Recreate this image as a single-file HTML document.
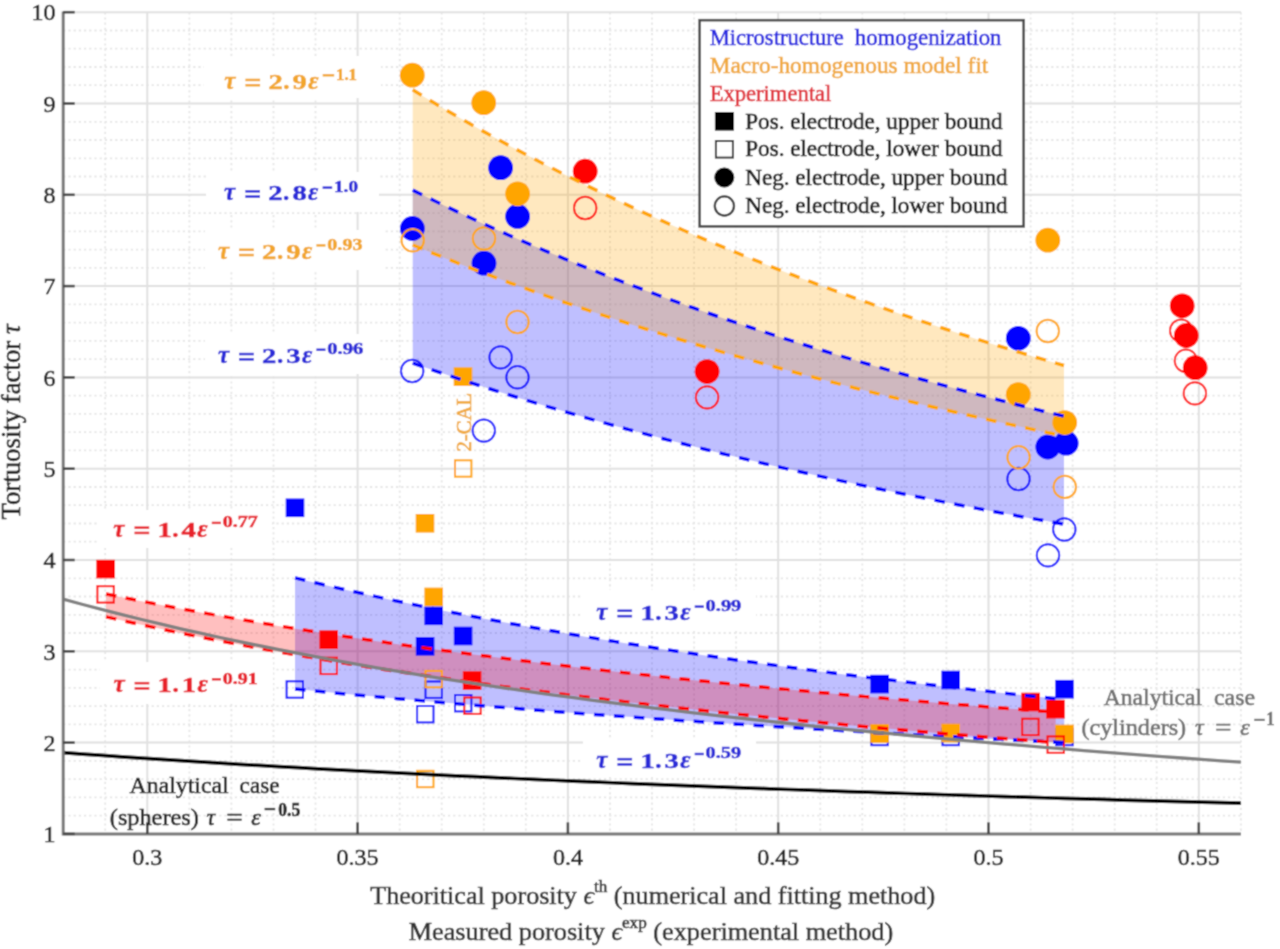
<!DOCTYPE html><html><head><meta charset="utf-8"><title>Tortuosity chart</title><style>
svg{will-change:transform}
html,body{margin:0;padding:0;background:#fff;width:1280px;height:949px;overflow:hidden;position:relative}
svg text{font-family:"Liberation Serif",serif}
.mn{stroke:#e6e6e6;stroke-width:1.8;stroke-dasharray:2.2 3}
.mj{stroke:#e0e0e0;stroke-width:2}
.tk{font-size:24px;fill:#222;stroke:#222}
text{stroke-width:0.6px}
.fm,.fd,.fs{stroke-width:0.5px}
.lg{font-size:24px}
.fm{font-size:25px;font-weight:bold}
.fs{font-size:16px;font-weight:bold}
.fd{font-size:22px;font-weight:bold}
.an{font-size:24px}
.cal{font-size:20.5px}
.ax{font-size:26px}
.yt{font-size:26.5px}
</style></head><body><svg width="1280" height="949" viewBox="0 0 1280 949" style="position:absolute;left:0;top:0">
<defs><filter id="bl" x="0" y="0" width="1280" height="949" filterUnits="userSpaceOnUse"><feConvolveMatrix order="3" kernelMatrix="1 2 1 2 8 2 1 2 1" divisor="20" edgeMode="duplicate"/></filter></defs><g filter="url(#bl)">
<rect width="1280" height="949" fill="#fff"/>
<g><line x1="63.2" y1="12.2" x2="63.2" y2="833.9" class="mn"/><line x1="105.2" y1="12.2" x2="105.2" y2="833.9" class="mn"/><line x1="189.4" y1="12.2" x2="189.4" y2="833.9" class="mn"/><line x1="231.4" y1="12.2" x2="231.4" y2="833.9" class="mn"/><line x1="273.5" y1="12.2" x2="273.5" y2="833.9" class="mn"/><line x1="315.5" y1="12.2" x2="315.5" y2="833.9" class="mn"/><line x1="399.7" y1="12.2" x2="399.7" y2="833.9" class="mn"/><line x1="441.7" y1="12.2" x2="441.7" y2="833.9" class="mn"/><line x1="483.8" y1="12.2" x2="483.8" y2="833.9" class="mn"/><line x1="525.8" y1="12.2" x2="525.8" y2="833.9" class="mn"/><line x1="610.0" y1="12.2" x2="610.0" y2="833.9" class="mn"/><line x1="652.0" y1="12.2" x2="652.0" y2="833.9" class="mn"/><line x1="694.1" y1="12.2" x2="694.1" y2="833.9" class="mn"/><line x1="736.1" y1="12.2" x2="736.1" y2="833.9" class="mn"/><line x1="820.3" y1="12.2" x2="820.3" y2="833.9" class="mn"/><line x1="862.3" y1="12.2" x2="862.3" y2="833.9" class="mn"/><line x1="904.4" y1="12.2" x2="904.4" y2="833.9" class="mn"/><line x1="946.4" y1="12.2" x2="946.4" y2="833.9" class="mn"/><line x1="1030.6" y1="12.2" x2="1030.6" y2="833.9" class="mn"/><line x1="1072.6" y1="12.2" x2="1072.6" y2="833.9" class="mn"/><line x1="1114.7" y1="12.2" x2="1114.7" y2="833.9" class="mn"/><line x1="1156.7" y1="12.2" x2="1156.7" y2="833.9" class="mn"/><line x1="1240.9" y1="12.2" x2="1240.9" y2="833.9" class="mn"/><line x1="63.2" y1="815.6" x2="1240.9" y2="815.6" class="mn"/><line x1="63.2" y1="797.4" x2="1240.9" y2="797.4" class="mn"/><line x1="63.2" y1="779.1" x2="1240.9" y2="779.1" class="mn"/><line x1="63.2" y1="760.9" x2="1240.9" y2="760.9" class="mn"/><line x1="63.2" y1="724.3" x2="1240.9" y2="724.3" class="mn"/><line x1="63.2" y1="706.1" x2="1240.9" y2="706.1" class="mn"/><line x1="63.2" y1="687.8" x2="1240.9" y2="687.8" class="mn"/><line x1="63.2" y1="669.6" x2="1240.9" y2="669.6" class="mn"/><line x1="63.2" y1="633.0" x2="1240.9" y2="633.0" class="mn"/><line x1="63.2" y1="614.8" x2="1240.9" y2="614.8" class="mn"/><line x1="63.2" y1="596.5" x2="1240.9" y2="596.5" class="mn"/><line x1="63.2" y1="578.3" x2="1240.9" y2="578.3" class="mn"/><line x1="63.2" y1="541.7" x2="1240.9" y2="541.7" class="mn"/><line x1="63.2" y1="523.5" x2="1240.9" y2="523.5" class="mn"/><line x1="63.2" y1="505.2" x2="1240.9" y2="505.2" class="mn"/><line x1="63.2" y1="487.0" x2="1240.9" y2="487.0" class="mn"/><line x1="63.2" y1="450.4" x2="1240.9" y2="450.4" class="mn"/><line x1="63.2" y1="432.2" x2="1240.9" y2="432.2" class="mn"/><line x1="63.2" y1="413.9" x2="1240.9" y2="413.9" class="mn"/><line x1="63.2" y1="395.7" x2="1240.9" y2="395.7" class="mn"/><line x1="63.2" y1="359.1" x2="1240.9" y2="359.1" class="mn"/><line x1="63.2" y1="340.9" x2="1240.9" y2="340.9" class="mn"/><line x1="63.2" y1="322.6" x2="1240.9" y2="322.6" class="mn"/><line x1="63.2" y1="304.4" x2="1240.9" y2="304.4" class="mn"/><line x1="63.2" y1="267.8" x2="1240.9" y2="267.8" class="mn"/><line x1="63.2" y1="249.6" x2="1240.9" y2="249.6" class="mn"/><line x1="63.2" y1="231.3" x2="1240.9" y2="231.3" class="mn"/><line x1="63.2" y1="213.1" x2="1240.9" y2="213.1" class="mn"/><line x1="63.2" y1="176.5" x2="1240.9" y2="176.5" class="mn"/><line x1="63.2" y1="158.3" x2="1240.9" y2="158.3" class="mn"/><line x1="63.2" y1="140.0" x2="1240.9" y2="140.0" class="mn"/><line x1="63.2" y1="121.8" x2="1240.9" y2="121.8" class="mn"/><line x1="63.2" y1="85.2" x2="1240.9" y2="85.2" class="mn"/><line x1="63.2" y1="67.0" x2="1240.9" y2="67.0" class="mn"/><line x1="63.2" y1="48.7" x2="1240.9" y2="48.7" class="mn"/><line x1="63.2" y1="30.5" x2="1240.9" y2="30.5" class="mn"/><line x1="147.3" y1="12.2" x2="147.3" y2="833.9" class="mj"/><line x1="357.6" y1="12.2" x2="357.6" y2="833.9" class="mj"/><line x1="567.9" y1="12.2" x2="567.9" y2="833.9" class="mj"/><line x1="778.2" y1="12.2" x2="778.2" y2="833.9" class="mj"/><line x1="988.5" y1="12.2" x2="988.5" y2="833.9" class="mj"/><line x1="1198.8" y1="12.2" x2="1198.8" y2="833.9" class="mj"/><line x1="63.2" y1="833.9" x2="1240.9" y2="833.9" class="mj"/><line x1="63.2" y1="742.6" x2="1240.9" y2="742.6" class="mj"/><line x1="63.2" y1="651.3" x2="1240.9" y2="651.3" class="mj"/><line x1="63.2" y1="560.0" x2="1240.9" y2="560.0" class="mj"/><line x1="63.2" y1="468.7" x2="1240.9" y2="468.7" class="mj"/><line x1="63.2" y1="377.4" x2="1240.9" y2="377.4" class="mj"/><line x1="63.2" y1="286.1" x2="1240.9" y2="286.1" class="mj"/><line x1="63.2" y1="194.8" x2="1240.9" y2="194.8" class="mj"/><line x1="63.2" y1="103.5" x2="1240.9" y2="103.5" class="mj"/><line x1="63.2" y1="12.2" x2="1240.9" y2="12.2" class="mj"/></g>
<rect x="204" y="56" width="177" height="42" fill="#fff"/>
<rect x="206" y="172" width="173" height="40" fill="#fff"/>
<rect x="205" y="230" width="178" height="40" fill="#fff"/>
<rect x="205" y="334" width="175" height="40" fill="#fff"/>
<rect x="583" y="590" width="173" height="40" fill="#fff"/>
<rect x="583" y="738" width="173" height="39" fill="#fff"/>
<rect x="98" y="510" width="174" height="38" fill="#fff"/>
<rect x="100" y="662" width="173" height="42" fill="#fff"/>
<polygon points="412.70,190.10 423.56,195.47 434.41,200.76 445.27,205.98 456.12,211.12 466.98,216.20 477.83,221.20 488.69,226.13 499.54,231.00 510.40,235.80 521.25,240.53 532.11,245.20 542.96,249.81 553.82,254.36 564.67,258.85 575.53,263.28 586.38,267.65 597.24,271.96 608.09,276.22 618.95,280.43 629.80,284.58 640.65,288.68 651.51,292.73 662.37,296.73 673.22,300.68 684.08,304.58 694.93,308.43 705.79,312.24 716.64,316.00 727.50,319.72 738.35,323.39 749.21,327.01 760.06,330.60 770.92,334.14 781.77,337.64 792.63,341.10 803.48,344.53 814.34,347.91 825.19,351.25 836.05,354.56 846.90,357.83 857.75,361.06 868.61,364.25 879.46,367.41 890.32,370.54 901.18,373.63 912.03,376.69 922.89,379.71 933.74,382.70 944.60,385.66 955.45,388.59 966.31,391.49 977.16,394.36 988.02,397.19 998.87,400.00 1009.72,402.78 1020.58,405.53 1031.43,408.25 1042.29,410.94 1053.14,413.60 1064.00,416.24 1064.00,524.18 1053.14,522.27 1042.29,520.34 1031.43,518.39 1020.58,516.43 1009.72,514.44 998.87,512.44 988.02,510.41 977.16,508.37 966.31,506.30 955.45,504.21 944.60,502.10 933.74,499.97 922.89,497.82 912.03,495.64 901.18,493.44 890.32,491.22 879.46,488.98 868.61,486.71 857.75,484.41 846.90,482.10 836.05,479.75 825.19,477.38 814.34,474.99 803.48,472.57 792.63,470.12 781.77,467.64 770.92,465.14 760.06,462.61 749.21,460.05 738.35,457.46 727.50,454.84 716.64,452.19 705.79,449.51 694.93,446.80 684.08,444.05 673.22,441.28 662.37,438.47 651.51,435.62 640.65,432.75 629.80,429.83 618.95,426.88 608.09,423.90 597.24,420.88 586.38,417.82 575.53,414.72 564.67,411.59 553.82,408.41 542.96,405.20 532.11,401.94 521.25,398.64 510.40,395.29 499.54,391.91 488.69,388.48 477.83,385.00 466.98,381.48 456.12,377.90 445.27,374.28 434.41,370.62 423.56,366.90 412.70,363.13" fill="#0000FF" fill-opacity="0.25"/>
<polygon points="412.70,89.84 423.56,96.48 434.41,103.03 445.27,109.48 456.12,115.83 466.98,122.09 477.83,128.26 488.69,134.34 499.54,140.33 510.40,146.24 521.25,152.07 532.11,157.81 542.96,163.48 553.82,169.06 564.67,174.57 575.53,180.00 586.38,185.36 597.24,190.65 608.09,195.87 618.95,201.01 629.80,206.09 640.65,211.11 651.51,216.05 662.37,220.93 673.22,225.75 684.08,230.51 694.93,235.21 705.79,239.85 716.64,244.42 727.50,248.95 738.35,253.41 749.21,257.82 760.06,262.18 770.92,266.48 781.77,270.73 792.63,274.93 803.48,279.07 814.34,283.17 825.19,287.22 836.05,291.22 846.90,295.18 857.75,299.09 868.61,302.95 879.46,306.77 890.32,310.54 901.18,314.27 912.03,317.96 922.89,321.60 933.74,325.21 944.60,328.77 955.45,332.30 966.31,335.79 977.16,339.23 988.02,342.64 998.87,346.02 1009.72,349.35 1020.58,352.65 1031.43,355.91 1042.29,359.14 1053.14,362.34 1064.00,365.50 1064.00,436.00 1053.14,433.73 1042.29,431.43 1031.43,429.11 1020.58,426.77 1009.72,424.41 998.87,422.03 988.02,419.61 977.16,417.18 966.31,414.72 955.45,412.24 944.60,409.73 933.74,407.19 922.89,404.63 912.03,402.05 901.18,399.43 890.32,396.79 879.46,394.12 868.61,391.43 857.75,388.70 846.90,385.95 836.05,383.16 825.19,380.35 814.34,377.50 803.48,374.63 792.63,371.72 781.77,368.78 770.92,365.81 760.06,362.80 749.21,359.76 738.35,356.69 727.50,353.58 716.64,350.44 705.79,347.26 694.93,344.04 684.08,340.79 673.22,337.49 662.37,334.16 651.51,330.79 640.65,327.38 629.80,323.93 618.95,320.44 608.09,316.90 597.24,313.32 586.38,309.70 575.53,306.03 564.67,302.32 553.82,298.56 542.96,294.75 532.11,290.90 521.25,286.99 510.40,283.03 499.54,279.03 488.69,274.97 477.83,270.86 466.98,266.69 456.12,262.47 445.27,258.19 434.41,253.85 423.56,249.46 412.70,245.00" fill="#FFA500" fill-opacity="0.25"/>
<polygon points="295.00,577.84 307.82,580.94 320.64,583.99 333.47,586.98 346.29,589.92 359.11,592.80 371.93,595.64 384.75,598.43 397.57,601.18 410.40,603.87 423.22,606.53 436.04,609.13 448.86,611.70 461.68,614.23 474.50,616.71 487.32,619.15 500.15,621.56 512.97,623.93 525.79,626.26 538.61,628.56 551.43,630.82 564.26,633.04 577.08,635.24 589.90,637.39 602.72,639.52 615.54,641.62 628.36,643.68 641.19,645.72 654.01,647.73 666.83,649.70 679.65,651.65 692.47,653.57 705.29,655.47 718.12,657.34 730.94,659.18 743.76,661.00 756.58,662.79 769.40,664.56 782.22,666.30 795.05,668.02 807.87,669.72 820.69,671.40 833.51,673.05 846.33,674.68 859.15,676.29 871.98,677.88 884.80,679.45 897.62,681.00 910.44,682.54 923.26,684.05 936.08,685.54 948.91,687.01 961.73,688.47 974.55,689.91 987.37,691.33 1000.19,692.73 1013.01,694.12 1025.84,695.49 1038.66,696.85 1051.48,698.18 1064.30,699.51 1064.30,742.56 1051.48,741.93 1038.66,741.28 1025.84,740.64 1013.01,739.98 1000.19,739.32 987.37,738.65 974.55,737.97 961.73,737.29 948.91,736.61 936.08,735.91 923.26,735.21 910.44,734.50 897.62,733.78 884.80,733.06 871.98,732.33 859.15,731.59 846.33,730.85 833.51,730.09 820.69,729.33 807.87,728.56 795.05,727.78 782.22,727.00 769.40,726.20 756.58,725.40 743.76,724.59 730.94,723.76 718.12,722.93 705.29,722.10 692.47,721.25 679.65,720.39 666.83,719.52 654.01,718.64 641.19,717.75 628.36,716.85 615.54,715.94 602.72,715.02 589.90,714.09 577.08,713.15 564.26,712.19 551.43,711.23 538.61,710.25 525.79,709.26 512.97,708.26 500.15,707.24 487.32,706.22 474.50,705.18 461.68,704.12 448.86,703.05 436.04,701.97 423.22,700.88 410.40,699.76 397.57,698.64 384.75,697.50 371.93,696.34 359.11,695.17 346.29,693.98 333.47,692.77 320.64,691.55 307.82,690.31 295.00,689.05" fill="#0000FF" fill-opacity="0.25"/>
<polygon points="106.00,593.97 121.83,597.22 137.66,600.40 153.48,603.52 169.31,606.56 185.14,609.54 200.97,612.45 216.80,615.31 232.63,618.10 248.45,620.84 264.28,623.52 280.11,626.15 295.94,628.73 311.77,631.25 327.60,633.73 343.42,636.16 359.25,638.54 375.08,640.88 390.91,643.17 406.74,645.42 422.57,647.63 438.40,649.80 454.22,651.94 470.05,654.03 485.88,656.09 501.71,658.11 517.54,660.10 533.37,662.05 549.19,663.98 565.02,665.86 580.85,667.72 596.68,669.55 612.51,671.35 628.34,673.12 644.16,674.86 659.99,676.57 675.82,678.26 691.65,679.92 707.48,681.55 723.31,683.16 739.13,684.75 754.96,686.31 770.79,687.85 786.62,689.37 802.45,690.86 818.28,692.33 834.10,693.78 849.93,695.21 865.76,696.62 881.59,698.02 897.42,699.39 913.25,700.74 929.07,702.07 944.90,703.39 960.73,704.69 976.56,705.97 992.39,707.23 1008.22,708.48 1024.04,709.71 1039.87,710.92 1055.70,712.12 1055.70,742.56 1039.87,741.34 1024.04,740.10 1008.22,738.85 992.39,737.57 976.56,736.28 960.73,734.97 944.90,733.64 929.07,732.29 913.25,730.92 897.42,729.53 881.59,728.12 865.76,726.69 849.93,725.23 834.10,723.76 818.28,722.25 802.45,720.73 786.62,719.18 770.79,717.61 754.96,716.01 739.13,714.38 723.31,712.73 707.48,711.05 691.65,709.35 675.82,707.61 659.99,705.85 644.16,704.05 628.34,702.22 612.51,700.36 596.68,698.47 580.85,696.55 565.02,694.59 549.19,692.59 533.37,690.56 517.54,688.49 501.71,686.38 485.88,684.23 470.05,682.04 454.22,679.81 438.40,677.53 422.57,675.22 406.74,672.85 390.91,670.44 375.08,667.97 359.25,665.46 343.42,662.90 327.60,660.28 311.77,657.60 295.94,654.87 280.11,652.08 264.28,649.23 248.45,646.31 232.63,643.33 216.80,640.29 200.97,637.17 185.14,633.98 169.31,630.71 153.48,627.37 137.66,623.94 121.83,620.44 106.00,616.84" fill="#FF0000" fill-opacity="0.25"/>
<g><rect x="286.6" y="681.3" width="16.4" height="16.4" fill="none" stroke="#0000FF" stroke-width="2.0"/><rect x="425.5" y="681.5" width="16.4" height="16.4" fill="none" stroke="#0000FF" stroke-width="2.0"/><rect x="417.1" y="706.0" width="16.4" height="16.4" fill="none" stroke="#0000FF" stroke-width="2.0"/><rect x="455.0" y="695.0" width="16.4" height="16.4" fill="none" stroke="#0000FF" stroke-width="2.0"/><rect x="871.4" y="728.8" width="16.4" height="16.4" fill="none" stroke="#0000FF" stroke-width="2.0"/><rect x="942.5" y="728.8" width="16.4" height="16.4" fill="none" stroke="#0000FF" stroke-width="2.0"/><rect x="1056.3" y="728.8" width="16.4" height="16.4" fill="none" stroke="#0000FF" stroke-width="2.0"/><rect x="285.7" y="498.5" width="18.6" height="18.6" fill="#0000FF"/><rect x="424.4" y="606.5" width="18.6" height="18.6" fill="#0000FF"/><rect x="415.8" y="637.0" width="18.6" height="18.6" fill="#0000FF"/><rect x="453.8" y="626.7" width="18.6" height="18.6" fill="#0000FF"/><rect x="870.3" y="674.8" width="18.6" height="18.6" fill="#0000FF"/><rect x="941.4" y="670.7" width="18.6" height="18.6" fill="#0000FF"/><rect x="1055.2" y="679.9" width="18.6" height="18.6" fill="#0000FF"/><circle cx="412.2" cy="371" r="11.2" fill="none" stroke="#0000FF" stroke-width="2.0"/><circle cx="500.6" cy="357.4" r="11.2" fill="none" stroke="#0000FF" stroke-width="2.0"/><circle cx="517.5" cy="377.3" r="11.2" fill="none" stroke="#0000FF" stroke-width="2.0"/><circle cx="483.8" cy="430.6" r="11.2" fill="none" stroke="#0000FF" stroke-width="2.0"/><circle cx="1018.5" cy="479" r="11.2" fill="none" stroke="#0000FF" stroke-width="2.0"/><circle cx="1064.3" cy="529.5" r="11.2" fill="none" stroke="#0000FF" stroke-width="2.0"/><circle cx="1048" cy="555.4" r="11.2" fill="none" stroke="#0000FF" stroke-width="2.0"/><circle cx="500.6" cy="167.7" r="12.4" fill="#0000FF"/><circle cx="517.6" cy="216.4" r="12.4" fill="#0000FF"/><circle cx="412.4" cy="228.5" r="12.4" fill="#0000FF"/><circle cx="484" cy="263.2" r="12.4" fill="#0000FF"/><circle cx="1018.3" cy="338.3" r="12.4" fill="#0000FF"/><circle cx="1047.8" cy="447" r="12.4" fill="#0000FF"/><circle cx="1066.2" cy="443.2" r="12.4" fill="#0000FF"/><rect x="455.0" y="460.3" width="16.4" height="16.4" fill="none" stroke="#FFA500" stroke-width="2.0"/><rect x="425.5" y="670.9" width="16.4" height="16.4" fill="none" stroke="#FFA500" stroke-width="2.0"/><rect x="417.1" y="770.8" width="16.4" height="16.4" fill="none" stroke="#FFA500" stroke-width="2.0"/><rect x="453.7" y="367.3" width="18.6" height="18.6" fill="#FFA500"/><rect x="415.7" y="514.0" width="18.6" height="18.6" fill="#FFA500"/><rect x="424.4" y="587.6" width="18.6" height="18.6" fill="#FFA500"/><rect x="870.3" y="724.2" width="18.6" height="18.6" fill="#FFA500"/><rect x="941.4" y="723.7" width="18.6" height="18.6" fill="#FFA500"/><rect x="1055.2" y="724.7" width="18.6" height="18.6" fill="#FFA500"/><circle cx="412.7" cy="240.3" r="11.2" fill="none" stroke="#FFA500" stroke-width="2.0"/><circle cx="484" cy="238.5" r="11.2" fill="none" stroke="#FFA500" stroke-width="2.0"/><circle cx="517.5" cy="322" r="11.2" fill="none" stroke="#FFA500" stroke-width="2.0"/><circle cx="1047.8" cy="331" r="11.2" fill="none" stroke="#FFA500" stroke-width="2.0"/><circle cx="1018.6" cy="457.3" r="11.2" fill="none" stroke="#FFA500" stroke-width="2.0"/><circle cx="1064.8" cy="486.9" r="11.2" fill="none" stroke="#FFA500" stroke-width="2.0"/><circle cx="412.3" cy="75.2" r="12.4" fill="#FFA500"/><circle cx="483.7" cy="102.7" r="12.4" fill="#FFA500"/><circle cx="517.6" cy="193.8" r="12.4" fill="#FFA500"/><circle cx="1047.8" cy="240.2" r="12.4" fill="#FFA500"/><circle cx="1018.3" cy="394.6" r="12.4" fill="#FFA500"/><circle cx="1064.7" cy="422.6" r="12.4" fill="#FFA500"/><rect x="97.4" y="586.2" width="16.4" height="16.4" fill="none" stroke="#FF0000" stroke-width="2.0"/><rect x="320.5" y="657.7" width="16.4" height="16.4" fill="none" stroke="#FF0000" stroke-width="2.0"/><rect x="464.3" y="697.5" width="16.4" height="16.4" fill="none" stroke="#FF0000" stroke-width="2.0"/><rect x="1022.2" y="718.7" width="16.4" height="16.4" fill="none" stroke="#FF0000" stroke-width="2.0"/><rect x="1047.5" y="736.4" width="16.4" height="16.4" fill="none" stroke="#FF0000" stroke-width="2.0"/><rect x="96.3" y="559.8" width="18.6" height="18.6" fill="#FF0000"/><rect x="319.4" y="630.3" width="18.6" height="18.6" fill="#FF0000"/><rect x="462.8" y="671.2" width="18.6" height="18.6" fill="#FF0000"/><rect x="1021.3" y="692.7" width="18.6" height="18.6" fill="#FF0000"/><rect x="1046.2" y="699.9" width="18.6" height="18.6" fill="#FF0000"/><circle cx="585.2" cy="208" r="11.2" fill="none" stroke="#FF0000" stroke-width="2.0"/><circle cx="707.1" cy="397.4" r="11.2" fill="none" stroke="#FF0000" stroke-width="2.0"/><circle cx="1181.2" cy="330.7" r="11.2" fill="none" stroke="#FF0000" stroke-width="2.0"/><circle cx="1185.9" cy="360.8" r="11.2" fill="none" stroke="#FF0000" stroke-width="2.0"/><circle cx="1194.9" cy="393.4" r="11.2" fill="none" stroke="#FF0000" stroke-width="2.0"/><circle cx="585.2" cy="171.2" r="12.4" fill="#FF0000"/><circle cx="707.1" cy="371.6" r="12.4" fill="#FF0000"/><circle cx="1182.2" cy="305.8" r="12.4" fill="#FF0000"/><circle cx="1186.3" cy="335.5" r="12.4" fill="#FF0000"/><circle cx="1195.2" cy="367.7" r="12.4" fill="#FF0000"/></g>
<polyline points="412.70,89.84 423.56,96.48 434.41,103.03 445.27,109.48 456.12,115.83 466.98,122.09 477.83,128.26 488.69,134.34 499.54,140.33 510.40,146.24 521.25,152.07 532.11,157.81 542.96,163.48 553.82,169.06 564.67,174.57 575.53,180.00 586.38,185.36 597.24,190.65 608.09,195.87 618.95,201.01 629.80,206.09 640.65,211.11 651.51,216.05 662.37,220.93 673.22,225.75 684.08,230.51 694.93,235.21 705.79,239.85 716.64,244.42 727.50,248.95 738.35,253.41 749.21,257.82 760.06,262.18 770.92,266.48 781.77,270.73 792.63,274.93 803.48,279.07 814.34,283.17 825.19,287.22 836.05,291.22 846.90,295.18 857.75,299.09 868.61,302.95 879.46,306.77 890.32,310.54 901.18,314.27 912.03,317.96 922.89,321.60 933.74,325.21 944.60,328.77 955.45,332.30 966.31,335.79 977.16,339.23 988.02,342.64 998.87,346.02 1009.72,349.35 1020.58,352.65 1031.43,355.91 1042.29,359.14 1053.14,362.34 1064.00,365.50" fill="none" stroke="#FFA500" stroke-width="3.5" stroke-dasharray="10.5 9.5"/>
<polyline points="412.70,245.00 423.56,249.46 434.41,253.85 445.27,258.19 456.12,262.47 466.98,266.69 477.83,270.86 488.69,274.97 499.54,279.03 510.40,283.03 521.25,286.99 532.11,290.90 542.96,294.75 553.82,298.56 564.67,302.32 575.53,306.03 586.38,309.70 597.24,313.32 608.09,316.90 618.95,320.44 629.80,323.93 640.65,327.38 651.51,330.79 662.37,334.16 673.22,337.49 684.08,340.79 694.93,344.04 705.79,347.26 716.64,350.44 727.50,353.58 738.35,356.69 749.21,359.76 760.06,362.80 770.92,365.81 781.77,368.78 792.63,371.72 803.48,374.63 814.34,377.50 825.19,380.35 836.05,383.16 846.90,385.95 857.75,388.70 868.61,391.43 879.46,394.12 890.32,396.79 901.18,399.43 912.03,402.05 922.89,404.63 933.74,407.19 944.60,409.73 955.45,412.24 966.31,414.72 977.16,417.18 988.02,419.61 998.87,422.03 1009.72,424.41 1020.58,426.77 1031.43,429.11 1042.29,431.43 1053.14,433.73 1064.00,436.00" fill="none" stroke="#FFA500" stroke-width="3.5" stroke-dasharray="10.5 9.5"/>
<polyline points="412.70,190.10 423.56,195.47 434.41,200.76 445.27,205.98 456.12,211.12 466.98,216.20 477.83,221.20 488.69,226.13 499.54,231.00 510.40,235.80 521.25,240.53 532.11,245.20 542.96,249.81 553.82,254.36 564.67,258.85 575.53,263.28 586.38,267.65 597.24,271.96 608.09,276.22 618.95,280.43 629.80,284.58 640.65,288.68 651.51,292.73 662.37,296.73 673.22,300.68 684.08,304.58 694.93,308.43 705.79,312.24 716.64,316.00 727.50,319.72 738.35,323.39 749.21,327.01 760.06,330.60 770.92,334.14 781.77,337.64 792.63,341.10 803.48,344.53 814.34,347.91 825.19,351.25 836.05,354.56 846.90,357.83 857.75,361.06 868.61,364.25 879.46,367.41 890.32,370.54 901.18,373.63 912.03,376.69 922.89,379.71 933.74,382.70 944.60,385.66 955.45,388.59 966.31,391.49 977.16,394.36 988.02,397.19 998.87,400.00 1009.72,402.78 1020.58,405.53 1031.43,408.25 1042.29,410.94 1053.14,413.60 1064.00,416.24" fill="none" stroke="#0000FF" stroke-width="3.5" stroke-dasharray="10.5 9.5"/>
<polyline points="412.70,363.13 423.56,366.90 434.41,370.62 445.27,374.28 456.12,377.90 466.98,381.48 477.83,385.00 488.69,388.48 499.54,391.91 510.40,395.29 521.25,398.64 532.11,401.94 542.96,405.20 553.82,408.41 564.67,411.59 575.53,414.72 586.38,417.82 597.24,420.88 608.09,423.90 618.95,426.88 629.80,429.83 640.65,432.75 651.51,435.62 662.37,438.47 673.22,441.28 684.08,444.05 694.93,446.80 705.79,449.51 716.64,452.19 727.50,454.84 738.35,457.46 749.21,460.05 760.06,462.61 770.92,465.14 781.77,467.64 792.63,470.12 803.48,472.57 814.34,474.99 825.19,477.38 836.05,479.75 846.90,482.10 857.75,484.41 868.61,486.71 879.46,488.98 890.32,491.22 901.18,493.44 912.03,495.64 922.89,497.82 933.74,499.97 944.60,502.10 955.45,504.21 966.31,506.30 977.16,508.37 988.02,510.41 998.87,512.44 1009.72,514.44 1020.58,516.43 1031.43,518.39 1042.29,520.34 1053.14,522.27 1064.00,524.18" fill="none" stroke="#0000FF" stroke-width="3.5" stroke-dasharray="10.5 9.5"/>
<polyline points="295.00,577.84 307.82,580.94 320.64,583.99 333.47,586.98 346.29,589.92 359.11,592.80 371.93,595.64 384.75,598.43 397.57,601.18 410.40,603.87 423.22,606.53 436.04,609.13 448.86,611.70 461.68,614.23 474.50,616.71 487.32,619.15 500.15,621.56 512.97,623.93 525.79,626.26 538.61,628.56 551.43,630.82 564.26,633.04 577.08,635.24 589.90,637.39 602.72,639.52 615.54,641.62 628.36,643.68 641.19,645.72 654.01,647.73 666.83,649.70 679.65,651.65 692.47,653.57 705.29,655.47 718.12,657.34 730.94,659.18 743.76,661.00 756.58,662.79 769.40,664.56 782.22,666.30 795.05,668.02 807.87,669.72 820.69,671.40 833.51,673.05 846.33,674.68 859.15,676.29 871.98,677.88 884.80,679.45 897.62,681.00 910.44,682.54 923.26,684.05 936.08,685.54 948.91,687.01 961.73,688.47 974.55,689.91 987.37,691.33 1000.19,692.73 1013.01,694.12 1025.84,695.49 1038.66,696.85 1051.48,698.18 1064.30,699.51" fill="none" stroke="#0000FF" stroke-width="3.5" stroke-dasharray="10.5 9.5"/>
<polyline points="295.00,689.05 307.82,690.31 320.64,691.55 333.47,692.77 346.29,693.98 359.11,695.17 371.93,696.34 384.75,697.50 397.57,698.64 410.40,699.76 423.22,700.88 436.04,701.97 448.86,703.05 461.68,704.12 474.50,705.18 487.32,706.22 500.15,707.24 512.97,708.26 525.79,709.26 538.61,710.25 551.43,711.23 564.26,712.19 577.08,713.15 589.90,714.09 602.72,715.02 615.54,715.94 628.36,716.85 641.19,717.75 654.01,718.64 666.83,719.52 679.65,720.39 692.47,721.25 705.29,722.10 718.12,722.93 730.94,723.76 743.76,724.59 756.58,725.40 769.40,726.20 782.22,727.00 795.05,727.78 807.87,728.56 820.69,729.33 833.51,730.09 846.33,730.85 859.15,731.59 871.98,732.33 884.80,733.06 897.62,733.78 910.44,734.50 923.26,735.21 936.08,735.91 948.91,736.61 961.73,737.29 974.55,737.97 987.37,738.65 1000.19,739.32 1013.01,739.98 1025.84,740.64 1038.66,741.28 1051.48,741.93 1064.30,742.56" fill="none" stroke="#0000FF" stroke-width="3.5" stroke-dasharray="10.5 9.5"/>
<polyline points="106.00,593.97 121.83,597.22 137.66,600.40 153.48,603.52 169.31,606.56 185.14,609.54 200.97,612.45 216.80,615.31 232.63,618.10 248.45,620.84 264.28,623.52 280.11,626.15 295.94,628.73 311.77,631.25 327.60,633.73 343.42,636.16 359.25,638.54 375.08,640.88 390.91,643.17 406.74,645.42 422.57,647.63 438.40,649.80 454.22,651.94 470.05,654.03 485.88,656.09 501.71,658.11 517.54,660.10 533.37,662.05 549.19,663.98 565.02,665.86 580.85,667.72 596.68,669.55 612.51,671.35 628.34,673.12 644.16,674.86 659.99,676.57 675.82,678.26 691.65,679.92 707.48,681.55 723.31,683.16 739.13,684.75 754.96,686.31 770.79,687.85 786.62,689.37 802.45,690.86 818.28,692.33 834.10,693.78 849.93,695.21 865.76,696.62 881.59,698.02 897.42,699.39 913.25,700.74 929.07,702.07 944.90,703.39 960.73,704.69 976.56,705.97 992.39,707.23 1008.22,708.48 1024.04,709.71 1039.87,710.92 1055.70,712.12" fill="none" stroke="#FF0000" stroke-width="3.5" stroke-dasharray="10.5 9.5"/>
<polyline points="106.00,616.84 121.83,620.44 137.66,623.94 153.48,627.37 169.31,630.71 185.14,633.98 200.97,637.17 216.80,640.29 232.63,643.33 248.45,646.31 264.28,649.23 280.11,652.08 295.94,654.87 311.77,657.60 327.60,660.28 343.42,662.90 359.25,665.46 375.08,667.97 390.91,670.44 406.74,672.85 422.57,675.22 438.40,677.53 454.22,679.81 470.05,682.04 485.88,684.23 501.71,686.38 517.54,688.49 533.37,690.56 549.19,692.59 565.02,694.59 580.85,696.55 596.68,698.47 612.51,700.36 628.34,702.22 644.16,704.05 659.99,705.85 675.82,707.61 691.65,709.35 707.48,711.05 723.31,712.73 739.13,714.38 754.96,716.01 770.79,717.61 786.62,719.18 802.45,720.73 818.28,722.25 834.10,723.76 849.93,725.23 865.76,726.69 881.59,728.12 897.42,729.53 913.25,730.92 929.07,732.29 944.90,733.64 960.73,734.97 976.56,736.28 992.39,737.57 1008.22,738.85 1024.04,740.10 1039.87,741.34 1055.70,742.56" fill="none" stroke="#FF0000" stroke-width="3.5" stroke-dasharray="10.5 9.5"/>
<polyline points="63.18,599.13 82.81,604.47 102.44,609.65 122.06,614.66 141.69,619.51 161.32,624.21 180.95,628.77 200.58,633.20 220.20,637.49 239.83,641.66 259.46,645.71 279.09,649.65 298.72,653.47 318.34,657.20 337.97,660.82 357.60,664.34 377.23,667.78 396.86,671.12 416.48,674.38 436.11,677.55 455.74,680.65 475.37,683.67 495.00,686.61 514.62,689.49 534.25,692.29 553.88,695.03 573.51,697.71 593.14,700.32 612.76,702.88 632.39,705.38 652.02,707.82 671.65,710.21 691.28,712.54 710.90,714.83 730.53,717.07 750.16,719.26 769.79,721.41 789.42,723.51 809.04,725.56 828.67,727.58 848.30,729.56 867.93,731.49 887.56,733.39 907.18,735.26 926.81,737.08 946.44,738.87 966.07,740.63 985.70,742.36 1005.32,744.05 1024.95,745.71 1044.58,747.34 1064.21,748.95 1083.84,750.52 1103.46,752.06 1123.09,753.58 1142.72,755.08 1162.35,756.54 1181.98,757.98 1201.60,759.40 1221.23,760.79 1240.86,762.16" fill="none" stroke="#808080" stroke-width="3.3"/>
<polyline points="63.18,752.66 82.81,754.08 102.44,755.46 122.06,756.82 141.69,758.14 161.32,759.43 180.95,760.69 200.58,761.92 220.20,763.13 239.83,764.30 259.46,765.46 279.09,766.59 298.72,767.69 318.34,768.78 337.97,769.84 357.60,770.87 377.23,771.89 396.86,772.89 416.48,773.87 436.11,774.83 455.74,775.78 475.37,776.70 495.00,777.61 514.62,778.50 534.25,779.38 553.88,780.24 573.51,781.08 593.14,781.91 612.76,782.73 632.39,783.53 652.02,784.32 671.65,785.10 691.28,785.86 710.90,786.61 730.53,787.35 750.16,788.08 769.79,788.79 789.42,789.50 809.04,790.19 828.67,790.88 848.30,791.55 867.93,792.21 887.56,792.87 907.18,793.51 926.81,794.15 946.44,794.77 966.07,795.39 985.70,796.00 1005.32,796.60 1024.95,797.19 1044.58,797.77 1064.21,798.35 1083.84,798.91 1103.46,799.47 1123.09,800.03 1142.72,800.57 1162.35,801.11 1181.98,801.64 1201.60,802.17 1221.23,802.68 1240.86,803.20" fill="none" stroke="#000" stroke-width="3.7"/>
<path d="M63.2,11.4 V833.9 H1240.9" fill="none" stroke="#777" stroke-width="3"/>
<line x1="63.2" y1="833.9" x2="74.7" y2="833.9" stroke="#444" stroke-width="2.6"/><line x1="63.2" y1="742.6" x2="74.7" y2="742.6" stroke="#444" stroke-width="2.6"/><line x1="63.2" y1="651.3" x2="74.7" y2="651.3" stroke="#444" stroke-width="2.6"/><line x1="63.2" y1="560.0" x2="74.7" y2="560.0" stroke="#444" stroke-width="2.6"/><line x1="63.2" y1="468.7" x2="74.7" y2="468.7" stroke="#444" stroke-width="2.6"/><line x1="63.2" y1="377.4" x2="74.7" y2="377.4" stroke="#444" stroke-width="2.6"/><line x1="63.2" y1="286.1" x2="74.7" y2="286.1" stroke="#444" stroke-width="2.6"/><line x1="63.2" y1="194.8" x2="74.7" y2="194.8" stroke="#444" stroke-width="2.6"/><line x1="63.2" y1="103.5" x2="74.7" y2="103.5" stroke="#444" stroke-width="2.6"/><line x1="63.2" y1="12.2" x2="74.7" y2="12.2" stroke="#444" stroke-width="2.6"/><line x1="147.3" y1="833.9" x2="147.3" y2="822.4" stroke="#444" stroke-width="2.6"/><line x1="357.6" y1="833.9" x2="357.6" y2="822.4" stroke="#444" stroke-width="2.6"/><line x1="567.9" y1="833.9" x2="567.9" y2="822.4" stroke="#444" stroke-width="2.6"/><line x1="778.2" y1="833.9" x2="778.2" y2="822.4" stroke="#444" stroke-width="2.6"/><line x1="988.5" y1="833.9" x2="988.5" y2="822.4" stroke="#444" stroke-width="2.6"/><line x1="1198.8" y1="833.9" x2="1198.8" y2="822.4" stroke="#444" stroke-width="2.6"/>
<text x="55.5" y="842.1" text-anchor="end" class="tk">1</text><text x="55.5" y="750.8" text-anchor="end" class="tk">2</text><text x="55.5" y="659.5" text-anchor="end" class="tk">3</text><text x="55.5" y="568.2" text-anchor="end" class="tk">4</text><text x="55.5" y="476.9" text-anchor="end" class="tk">5</text><text x="55.5" y="385.6" text-anchor="end" class="tk">6</text><text x="55.5" y="294.3" text-anchor="end" class="tk">7</text><text x="55.5" y="203.0" text-anchor="end" class="tk">8</text><text x="55.5" y="111.7" text-anchor="end" class="tk">9</text><text x="55.5" y="20.4" text-anchor="end" class="tk">10</text><text x="147.3" y="865" text-anchor="middle" class="tk">0.3</text><text x="357.6" y="865" text-anchor="middle" class="tk">0.35</text><text x="567.9" y="865" text-anchor="middle" class="tk">0.4</text><text x="778.2" y="865" text-anchor="middle" class="tk">0.45</text><text x="988.5" y="865" text-anchor="middle" class="tk">0.5</text><text x="1198.8" y="865" text-anchor="middle" class="tk">0.55</text>
<rect x="699.6" y="20.2" width="324" height="206.2" fill="#fff" stroke="#4a4a4a" stroke-width="2.6"/>
<text class="lg" fill="#2525e0" stroke="#2525e0"><tspan x="709.75" y="45" textLength="134" lengthAdjust="spacingAndGlyphs">Microstructure</tspan><tspan x="854.8" y="45" textLength="146.7" lengthAdjust="spacingAndGlyphs">homogenization</tspan></text>
<text class="lg" fill="#f0a83a" stroke="#f0a83a" x="709.75" y="72.75" textLength="278.6" lengthAdjust="spacingAndGlyphs">Macro-homogenous  model  fit</text>
<text class="lg" fill="#e0303a" stroke="#e0303a" x="709.75" y="101.25" textLength="121.5" lengthAdjust="spacingAndGlyphs">Experimental</text>
<rect x="714.9" y="112" width="19" height="18.6" fill="#000"/>
<rect x="715.9" y="141" width="17" height="16.6" fill="none" stroke="#333" stroke-width="2"/>
<circle cx="724.3" cy="177.5" r="10" fill="#000"/>
<circle cx="724.4" cy="206" r="9.6" fill="none" stroke="#333" stroke-width="2.3"/>
<text class="lg" fill="#111" stroke="#111" x="745.25" y="129" textLength="257.2" lengthAdjust="spacingAndGlyphs">Pos. electrode, upper bound</text>
<text class="lg" fill="#111" stroke="#111" x="745.25" y="156.4" textLength="257.2" lengthAdjust="spacingAndGlyphs">Pos. electrode, lower bound</text>
<text class="lg" fill="#111" stroke="#111" x="745.25" y="184.9" textLength="262.3" lengthAdjust="spacingAndGlyphs">Neg. electrode, upper bound</text>
<text class="lg" fill="#111" stroke="#111" x="745.25" y="213" textLength="262.3" lengthAdjust="spacingAndGlyphs">Neg. electrode, lower bound</text>
<g fill="#f2a52a" stroke="#f2a52a"><text class="fm" font-style="italic" x="224.2" y="89">τ</text><rect x="245.4" y="78.7" width="14.7" height="2.5" stroke="none"/><rect x="245.4" y="84.0" width="14.7" height="2.5" stroke="none"/><text class="fd" x="268.4" y="89" textLength="14.3" lengthAdjust="spacingAndGlyphs">2</text><text class="fm" x="283.2" y="89">.</text><text class="fd" x="292.5" y="89" textLength="14.3" lengthAdjust="spacingAndGlyphs">9</text><text class="fm" font-style="italic" x="308.2" y="89">ε</text><rect x="322.7" y="74.1" width="11.5" height="2.4" stroke="none"/><text class="fs" x="336.0" y="79.7" textLength="21.0" lengthAdjust="spacingAndGlyphs">1.1</text></g>
<g fill="#2a2ad8" stroke="#2a2ad8"><text class="fm" font-style="italic" x="224.1" y="200.4">τ</text><rect x="245.3" y="190.1" width="14.7" height="2.5" stroke="none"/><rect x="245.3" y="195.3" width="14.7" height="2.5" stroke="none"/><text class="fd" x="268.3" y="200.4" textLength="14.3" lengthAdjust="spacingAndGlyphs">2</text><text class="fm" x="283.1" y="200.4">.</text><text class="fd" x="292.4" y="200.4" textLength="14.3" lengthAdjust="spacingAndGlyphs">8</text><text class="fm" font-style="italic" x="308.1" y="200.4">ε</text><rect x="322.6" y="186.4" width="9.6" height="2.4" stroke="none"/><text class="fs" x="334.0" y="192" textLength="24.0" lengthAdjust="spacingAndGlyphs">1.0</text></g>
<g fill="#f2a52a" stroke="#f2a52a"><text class="fm" font-style="italic" x="217.9" y="258.8">τ</text><rect x="239.1" y="248.5" width="14.7" height="2.5" stroke="none"/><rect x="239.1" y="253.8" width="14.7" height="2.5" stroke="none"/><text class="fd" x="262.1" y="258.8" textLength="14.3" lengthAdjust="spacingAndGlyphs">2</text><text class="fm" x="276.9" y="258.8">.</text><text class="fd" x="286.2" y="258.8" textLength="14.3" lengthAdjust="spacingAndGlyphs">9</text><text class="fm" font-style="italic" x="301.9" y="258.8">ε</text><rect x="316.4" y="244.2" width="9.1" height="2.4" stroke="none"/><text class="fs" x="327.3" y="249.8" textLength="35.2" lengthAdjust="spacingAndGlyphs">0.93</text></g>
<g fill="#2a2ad8" stroke="#2a2ad8"><text class="fm" font-style="italic" x="217.9" y="363.1">τ</text><rect x="239.1" y="352.8" width="14.7" height="2.5" stroke="none"/><rect x="239.1" y="358.1" width="14.7" height="2.5" stroke="none"/><text class="fd" x="262.1" y="363.1" textLength="14.3" lengthAdjust="spacingAndGlyphs">2</text><text class="fm" x="276.9" y="363.1">.</text><text class="fd" x="286.2" y="363.1" textLength="14.3" lengthAdjust="spacingAndGlyphs">3</text><text class="fm" font-style="italic" x="301.9" y="363.1">ε</text><rect x="316.4" y="348.5" width="9.1" height="2.4" stroke="none"/><text class="fs" x="327.3" y="354.1" textLength="36.1" lengthAdjust="spacingAndGlyphs">0.96</text></g>
<g fill="#2a2ad8" stroke="#2a2ad8"><text class="fm" font-style="italic" x="596.2" y="619.9">τ</text><rect x="617.4" y="609.5" width="14.7" height="2.5" stroke="none"/><rect x="617.4" y="614.9" width="14.7" height="2.5" stroke="none"/><text class="fd" x="640.4" y="619.9" textLength="14.3" lengthAdjust="spacingAndGlyphs">1</text><text class="fm" x="655.2" y="619.9">.</text><text class="fd" x="664.5" y="619.9" textLength="14.3" lengthAdjust="spacingAndGlyphs">3</text><text class="fm" font-style="italic" x="680.2" y="619.9">ε</text><rect x="694.7" y="605.4" width="9.1" height="2.4" stroke="none"/><text class="fs" x="705.6" y="611" textLength="35.7" lengthAdjust="spacingAndGlyphs">0.99</text></g>
<g fill="#2a2ad8" stroke="#2a2ad8"><text class="fm" font-style="italic" x="596.2" y="768.2">τ</text><rect x="617.4" y="757.9" width="14.7" height="2.5" stroke="none"/><rect x="617.4" y="763.2" width="14.7" height="2.5" stroke="none"/><text class="fd" x="640.4" y="768.2" textLength="14.3" lengthAdjust="spacingAndGlyphs">1</text><text class="fm" x="655.2" y="768.2">.</text><text class="fd" x="664.5" y="768.2" textLength="14.3" lengthAdjust="spacingAndGlyphs">3</text><text class="fm" font-style="italic" x="680.2" y="768.2">ε</text><rect x="694.7" y="752.8" width="9.1" height="2.4" stroke="none"/><text class="fs" x="705.6" y="758.4" textLength="35.4" lengthAdjust="spacingAndGlyphs">0.59</text></g>
<g fill="#e8202a" stroke="#e8202a"><text class="fm" font-style="italic" x="113.3" y="536.7">τ</text><rect x="134.5" y="526.4" width="14.7" height="2.5" stroke="none"/><rect x="134.5" y="531.7" width="14.7" height="2.5" stroke="none"/><text class="fd" x="157.5" y="536.7" textLength="14.3" lengthAdjust="spacingAndGlyphs">1</text><text class="fm" x="172.3" y="536.7">.</text><text class="fd" x="181.6" y="536.7" textLength="14.3" lengthAdjust="spacingAndGlyphs">4</text><text class="fm" font-style="italic" x="197.3" y="536.7">ε</text><rect x="211.8" y="521.7" width="9.1" height="2.4" stroke="none"/><text class="fs" x="222.7" y="527.3" textLength="35.1" lengthAdjust="spacingAndGlyphs">0.77</text></g>
<g fill="#e8202a" stroke="#e8202a"><text class="fm" font-style="italic" x="113.4" y="692.2">τ</text><rect x="134.6" y="681.9" width="14.7" height="2.5" stroke="none"/><rect x="134.6" y="687.2" width="14.7" height="2.5" stroke="none"/><text class="fd" x="157.6" y="692.2" textLength="14.3" lengthAdjust="spacingAndGlyphs">1</text><text class="fm" x="172.4" y="692.2">.</text><text class="fd" x="181.7" y="692.2" textLength="14.3" lengthAdjust="spacingAndGlyphs">1</text><text class="fm" font-style="italic" x="197.4" y="692.2">ε</text><rect x="211.9" y="678.1" width="9.1" height="2.4" stroke="none"/><text class="fs" x="222.8" y="683.75" textLength="35.0" lengthAdjust="spacingAndGlyphs">0.91</text></g>
<g fill="#222" stroke="#222"><text class="an" x="129.6" y="793.2" textLength="99" lengthAdjust="spacingAndGlyphs">Analytical</text><text class="an" x="239.6" y="793.2" textLength="40" lengthAdjust="spacingAndGlyphs">case</text><text class="an" x="109.8" y="825" textLength="89" lengthAdjust="spacingAndGlyphs">(spheres)</text><text class="an" font-style="italic" x="206.5" y="825">τ</text><text class="an" x="226.2" y="825" textLength="16.5" lengthAdjust="spacingAndGlyphs">=</text><text class="an" font-style="italic" x="251.3" y="825">ε</text><rect x="264.6" y="807.9" width="10.6" height="2.3" stroke="none"/><text style="font-size:18px;font-weight:bold" x="278.3" y="815.5" textLength="22" lengthAdjust="spacingAndGlyphs">0.5</text></g>
<g fill="#707070" stroke="#707070"><text class="an" x="1103.7" y="704.5" textLength="98.5" lengthAdjust="spacingAndGlyphs">Analytical</text><text class="an" x="1214" y="704.5" textLength="41" lengthAdjust="spacingAndGlyphs">case</text><text class="an" x="1081.4" y="734.6" textLength="104.8" lengthAdjust="spacingAndGlyphs">(cylinders)</text><text class="an" font-style="italic" x="1195" y="734.6">τ</text><text class="an" x="1215" y="734.6" textLength="16.5" lengthAdjust="spacingAndGlyphs">=</text><text class="an" font-style="italic" x="1240.3" y="734.6">ε</text><rect x="1254.2" y="718.8" width="10.6" height="2.1" stroke="none"/><text style="font-size:18px;font-weight:bold" x="1266.6" y="725.3" textLength="8" lengthAdjust="spacingAndGlyphs">1</text></g>
<text class="cal" fill="#f0a83a" stroke="#f0a83a" transform="translate(470.8,451.5) rotate(-90)" textLength="58.5" lengthAdjust="spacingAndGlyphs">2-CAL</text>
<text class="ax" fill="#333" stroke="#333" x="370.2" y="904" textLength="565" lengthAdjust="spacingAndGlyphs">Theoritical porosity <tspan font-style="italic">ϵ</tspan><tspan dy="-12" font-size="17">th</tspan><tspan dy="12"> (numerical and fitting method)</tspan></text>
<text class="ax" fill="#333" stroke="#333" x="408.7" y="940.2" textLength="484.5" lengthAdjust="spacingAndGlyphs">Measured porosity <tspan font-style="italic">ϵ</tspan><tspan dy="-12" font-size="17">exp</tspan><tspan dy="12"> (experimental method)</tspan></text>
<text class="yt" fill="#222" stroke="#222" transform="translate(20,519.5) rotate(-90)" textLength="195" lengthAdjust="spacingAndGlyphs">Tortuosity factor <tspan font-style="italic">τ</tspan></text>
</g></svg></body></html>
